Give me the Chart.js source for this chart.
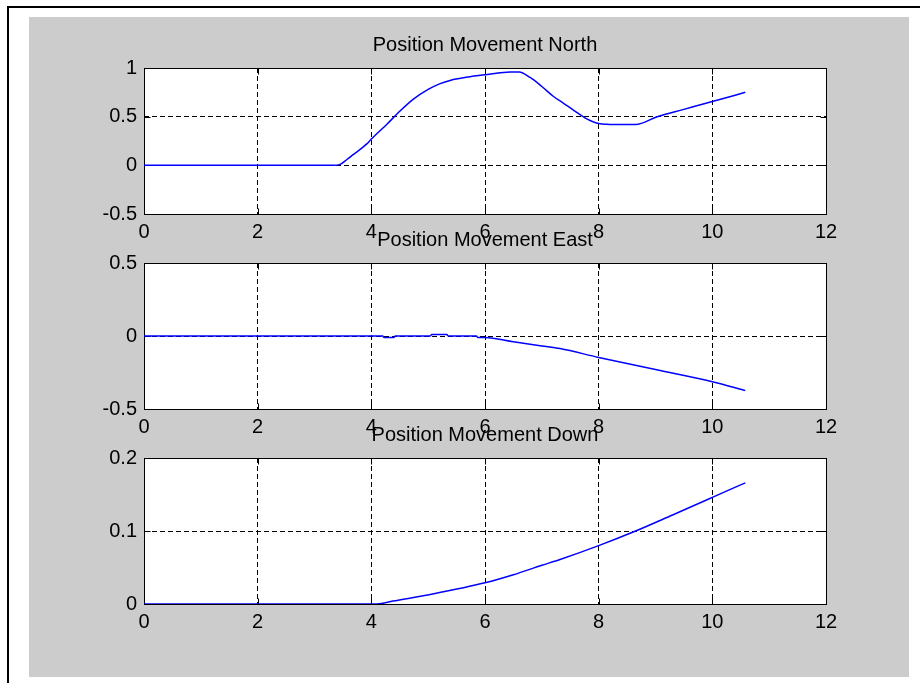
<!DOCTYPE html>
<html>
<head>
<meta charset="utf-8">
<script src="https://cdn.jsdelivr.net/npm/chart.js@4.4.0/dist/chart.umd.min.js"></script>
<style>
  html, body { margin: 0; padding: 0; background: #fff; }
  #page { position: relative; width: 920px; height: 683px; overflow: hidden; }
  #frame { position: absolute; left: 7px; top: 6px; right: 0; bottom: 0; border-top: 2px solid #000; border-left: 2px solid #000; }
  #panel { position: absolute; left: 29px; top: 17px; width: 880px; height: 660px; background: #cccccc; }
  .plot { position: absolute; left: 0; }
</style>
</head>
<body>
<div id="page">
  <div id="frame"></div>
  <div id="panel"></div>
  <canvas id="north" class="plot" width="920" height="231"></canvas>
  <canvas id="east" class="plot" width="920" height="231"></canvas>
  <canvas id="down" class="plot" width="920" height="231"></canvas>
</div>
<script>
// time axis (s)
const xTicks = [0, 2, 4, 6, 8, 10, 12];

// North
const northT = [0, 3.33, 3.45, 3.57, 3.68, 3.92, 4.0, 4.27, 4.5, 4.74, 5.0, 5.21, 5.4, 5.62, 6.0, 6.2, 6.45, 6.6, 6.8, 7.0, 7.2, 7.4, 7.55, 7.8, 8.0, 8.3, 8.65, 9.03, 9.5, 10.0, 10.58];
const northV = [0, 0, 0.01, 0.06, 0.11, 0.22, 0.27, 0.42, 0.555, 0.68, 0.78, 0.84, 0.875, 0.90, 0.93, 0.945, 0.96, 0.96, 0.9, 0.81, 0.71, 0.63, 0.57, 0.475, 0.43, 0.42, 0.42, 0.5, 0.575, 0.655, 0.75];
const northTicks = [-0.5, 0, 0.5, 1];

// East
const eastT = [0, 4.2, 4.22, 4.4, 4.42, 5.04, 5.06, 5.33, 5.35, 5.85, 5.87, 6.0, 6.5, 7.0, 7.32, 8.0, 9.0, 10.0, 10.58];
const eastV = [0, 0, -0.01, -0.01, 0, 0, 0.01, 0.01, 0, 0, -0.01, -0.01, -0.04, -0.068, -0.086, -0.147, -0.23, -0.313, -0.374];
const eastTicks = [-0.5, 0, 0.5];

// Down
const downT = [0, 4.1, 4.38, 5.1, 6.0, 6.5, 7.0, 7.32, 8.0, 8.65, 9.3, 10.0, 10.58];
const downV = [0, 0, 0.004, 0.014, 0.029, 0.04, 0.053, 0.061, 0.08, 0.1, 0.122, 0.146, 0.166];
const downTicks = [0, 0.1, 0.2];

const titles = ['Position Movement North', 'Position Movement East', 'Position Movement Down'];
const plotTops = [68, 263, 458];

const font = { family: "'Liberation Sans', Arial, sans-serif", size: 20 };

// white axes area, solid box with inner tick marks, title above
const framePlugin = {
  id: 'frame',
  beforeDraw(chart) {
    const { ctx, chartArea: a } = chart;
    ctx.save();
    ctx.fillStyle = '#fff';
    ctx.fillRect(a.left, a.top, a.right - a.left, a.bottom - a.top);
    ctx.restore();
  },
  beforeDatasetsDraw(chart) {
    const { ctx, chartArea: a, scales } = chart;
    const l = Math.round(a.left) + 0.5, t = Math.round(a.top) + 0.5;
    const r = Math.round(a.right) + 0.5, b = Math.round(a.bottom) + 0.5;
    ctx.save();
    ctx.strokeStyle = '#000';
    ctx.lineWidth = 1;
    ctx.setLineDash([]);
    ctx.strokeRect(l, t, r - l, b - t);
    ctx.beginPath();
    scales.x.ticks.forEach(tk => {
      const px = Math.round(scales.x.getPixelForValue(tk.value)) + 0.5;
      ctx.moveTo(px, b); ctx.lineTo(px, b - 6);
      ctx.moveTo(px, t); ctx.lineTo(px, t + 6);
    });
    scales.y.ticks.forEach(tk => {
      const py = Math.round(scales.y.getPixelForValue(tk.value)) + 0.5;
      ctx.moveTo(l, py); ctx.lineTo(l + 6, py);
      ctx.moveTo(r, py); ctx.lineTo(r - 6, py);
    });
    ctx.stroke();
    ctx.restore();
  },
  afterDraw(chart, args, opts) {
    const { ctx, chartArea: a } = chart;
    ctx.save();
    ctx.fillStyle = '#000';
    ctx.font = font.size + 'px ' + font.family;
    ctx.textAlign = 'center';
    ctx.textBaseline = 'alphabetic';
    ctx.fillText(opts.title, (a.left + a.right) / 2, a.top - 17);
    ctx.restore();
  }
};

function makePlot(id, title, t, v, yTicks, top) {
  const canvas = document.getElementById(id);
  canvas.style.top = (top - 45) + 'px';
  const gridOpts = { color: '#000', lineWidth: 1, drawTicks: false };
  const borderOpts = { display: false, dash: [5, 3] };
  return new Chart(canvas, {
    type: 'line',
    data: {
      datasets: [{
        data: t.map((x, i) => ({ x: x, y: v[i] })),
        borderColor: '#0000ff',
        borderWidth: 1.5,
        pointRadius: 0,
        fill: false,
        cubicInterpolationMode: 'monotone'
      }]
    },
    options: {
      responsive: false,
      animation: false,
      events: [],
      layout: { padding: { top: 45, right: 94, left: 0, bottom: 0 } },
      plugins: {
        legend: { display: false },
        tooltip: { enabled: false },
        frame: { title: title }
      },
      scales: {
        x: {
          type: 'linear',
          min: xTicks[0],
          max: xTicks[xTicks.length - 1],
          afterBuildTicks: s => { s.ticks = xTicks.map(value => ({ value })); },
          afterFit: s => { s.height = 40; },
          grid: gridOpts,
          border: borderOpts,
          ticks: { padding: 6, color: '#000', font: font, maxRotation: 0, autoSkip: false, callback: val => String(val) }
        },
        y: {
          type: 'linear',
          min: yTicks[0],
          max: yTicks[yTicks.length - 1],
          afterBuildTicks: s => { s.ticks = yTicks.map(value => ({ value })); },
          afterFit: s => { s.width = 144; },
          grid: gridOpts,
          border: borderOpts,
          ticks: { padding: 7, color: '#000', font: font, autoSkip: false, callback: val => String(val) }
        }
      }
    },
    plugins: [framePlugin]
  });
}

makePlot('north', titles[0], northT, northV, northTicks, plotTops[0]);
makePlot('east', titles[1], eastT, eastV, eastTicks, plotTops[1]);
makePlot('down', titles[2], downT, downV, downTicks, plotTops[2]);
</script>
</body>
</html>
